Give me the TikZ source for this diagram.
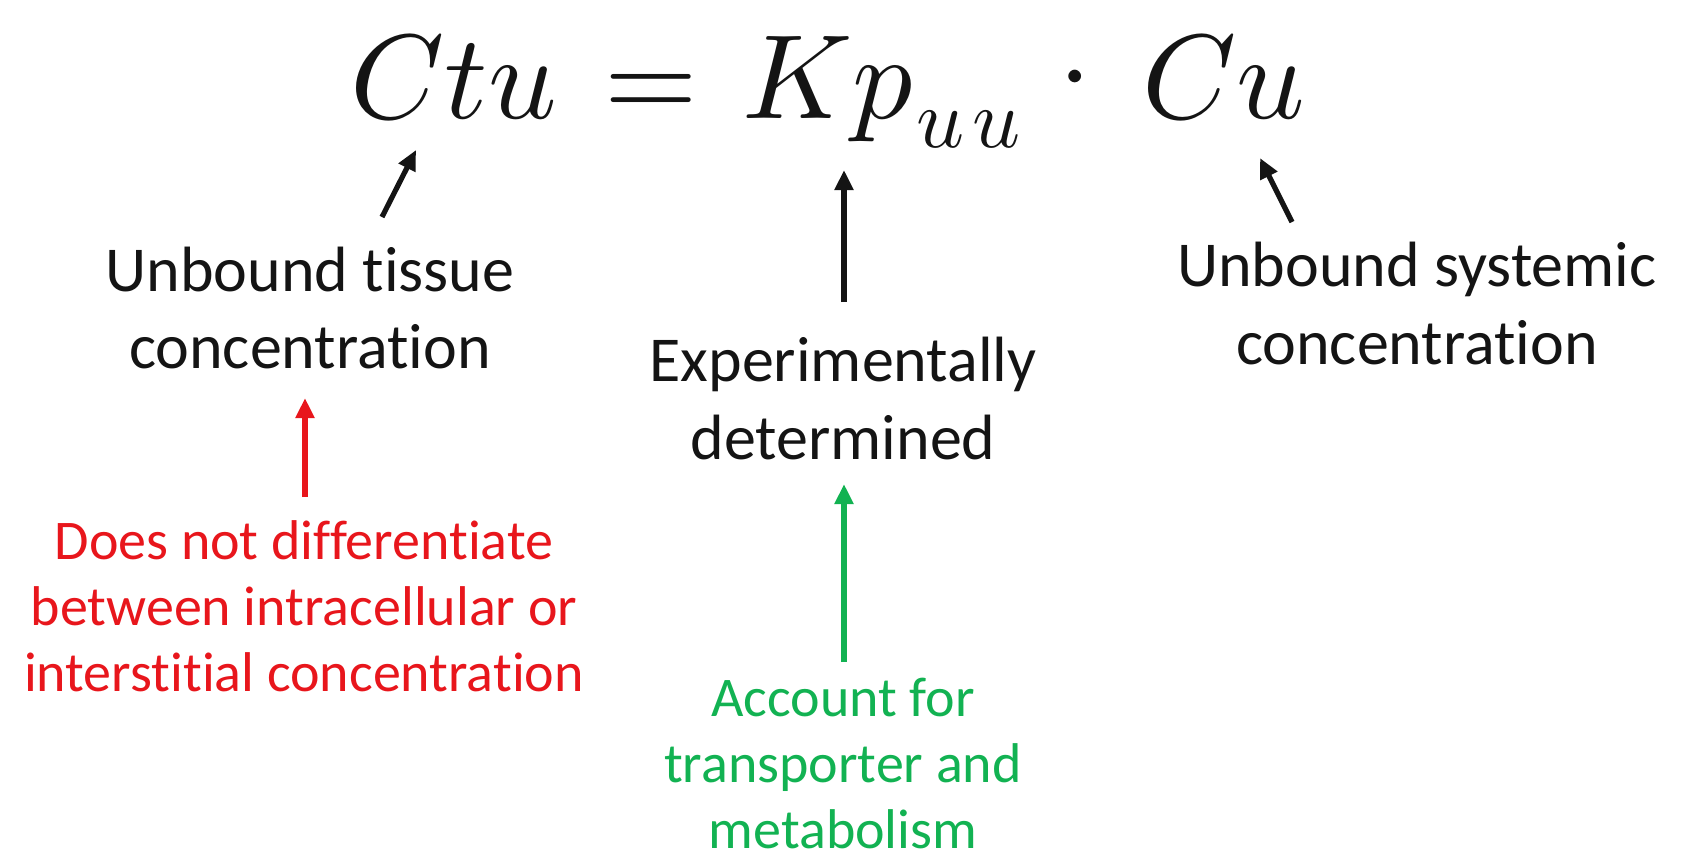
\documentclass[tikz,border=0pt]{standalone}
\usepackage{fontspec}
\usepackage{unicode-math}
\setmainfont{Carlito}[Ligatures=NoCommon]
\usetikzlibrary{arrows.meta, positioning, calc}
\definecolor{clrTx}{RGB}{ 20, 20, 20}
\definecolor{clrRd}{RGB}{232, 22, 28}
\definecolor{clrGn}{RGB}{ 18,178, 82}

\begin{document}
\begin{tikzpicture}[x=0.5pt, y=-0.5pt,
  %% ── node styles ──────────────────────────────────────────────────────────
  eqn/.style  = {inner sep=0pt, text=clrTx,
                 font=\fontsize{60}{64}\selectfont},
  desc/.style = {inner sep=0pt, align=center, text=clrTx,
                 font=\fontsize{32}{39}\selectfont},
  note/.style = {inner sep=0pt, align=center, text=#1,
                 font=\fontsize{28}{33}\selectfont},
  %% ── arrow styles ─────────────────────────────────────────────────────────
  arr/.style  = {-{Triangle[length=10pt, width=9pt]}, line width=2.6pt,
                 color=#1},
  arr/.default = clrTx,
]

%% ── bounding box (reference proportions) ─────────────────────────────────
\useasboundingbox (0,0) rectangle (1690,859);

%% ═══════════════════════════════════════════════════════════════════════════
%% EQUATION (top), baseline y = 118
%% ═══════════════════════════════════════════════════════════════════════════
\node[eqn, anchor=base west] (ctu)  at (350,118)  {$Ctu$};
\node[eqn, anchor=base]      (eqs)  at (651,118)  {$=$};
\node[eqn, anchor=base west] (kp)   at (742,118)  {$Kp_{\kern2pt u\kern4pt u}$};
\node[eqn, anchor=base]      (dot)  at (1075,106) {$\cdot$};
\node[eqn, anchor=base east] (cu)   at (1306,118) {$Cu$};

%% ═══════════════════════════════════════════════════════════════════════════
%% DESCRIPTIONS (middle row)
%% ═══════════════════════════════════════════════════════════════════════════
\node[desc] (tissue)   at (310,308) {Unbound tissue\\concentration};
\node[desc] (expdet)   at (843,398) {Experimentally\\determined};
\node[desc] (systemic) at (1417,303) {Unbound systemic\\concentration};

%% ═══════════════════════════════════════════════════════════════════════════
%% NOTES (bottom row)
%% ═══════════════════════════════════════════════════════════════════════════
\node[note=clrRd] (intra)  at (304,606)
      {Does not differentiate\\between intracellular or\\interstitial concentration};
\node[note=clrGn] (transp) at (843,763)
      {Account for\\transporter and\\metabolism};

%% ── arrow end points ─────────────────────────────────────────────────────
\coordinate (ctuTip)   at (416,150);
\coordinate (ctuTail)  at (382,217);
\coordinate (kpTip)    at (844,170);
\coordinate (kpTail)   at (844,302);
\coordinate (cuTip)    at (1260,158);
\coordinate (cuTail)   at (1292,222);
\coordinate (redTip)   at (305,398);
\coordinate (redTail)  at (305,497);
\coordinate (grnTip)   at (844,484);
\coordinate (grnTail)  at (844,662);

%% ── black arrows: descriptions → equation ────────────────────────────────
\draw[arr] (ctuTail) -- (ctuTip);
\draw[arr] (kpTail)  -- (kpTip);
\draw[arr] (cuTail)  -- (cuTip);

%% ── coloured arrows: notes → descriptions ────────────────────────────────
\draw[arr=clrRd] (redTail) -- (redTip);
\draw[arr=clrGn] (grnTail) -- (grnTip);

\end{tikzpicture}
\end{document}
